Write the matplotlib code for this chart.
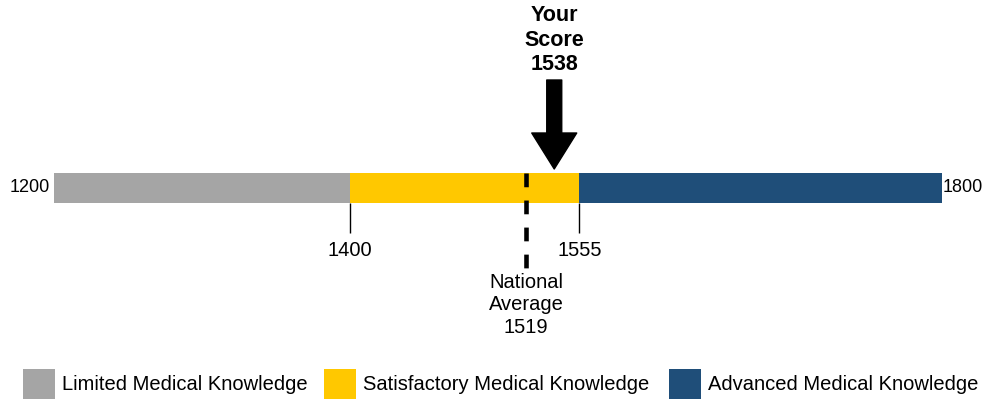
import matplotlib.pyplot as plt
from matplotlib.patches import Rectangle

plt.rcParams['font.family'] = ['Liberation Sans', 'DejaVu Sans']

# данные шкалы
range_min = 1200
range_max = 1800
band_edges = [1200, 1400, 1555, 1800]
band_labels = ['Limited Medical Knowledge', 'Satisfactory Medical Knowledge',
               'Advanced Medical Knowledge']
band_colors = ['#A5A5A5', '#FFC800', '#1F4E79']
national_avg = 1519
your_score = 1538

# пиксели -> единицы шкалы
px = (range_max - range_min) / 888.0
left_px = 54
fs = 14.5

fig = plt.figure(figsize=(9.85, 4.0), dpi=100)
ax = fig.add_axes([0, 0, 1, 1])
ax.set_xlim(range_min - left_px * px, range_min + (985 - left_px) * px)
ax.set_ylim(400, 0)
ax.axis('off')

# полосы
for i in range(len(band_labels)):
    ax.barh(188, band_edges[i + 1] - band_edges[i], left=band_edges[i], height=30,
            color=band_colors[i], edgecolor='none')

# крайние подписи
ax.text(range_min - 4 * px, 188, str(range_min), ha='right', va='center', fontsize=13)
ax.text(range_max + 1 * px, 188, str(range_max), ha='left', va='center', fontsize=13)

# внутренние границы
for e in band_edges[1:-1]:
    ax.vlines(e, 203, 233, color='black', linewidth=1)
    ax.text(e, 250, str(e), ha='center', va='center', fontsize=fs)

# средний балл
ax.plot([national_avg, national_avg], [173, 268], color='black', linewidth=3.3,
        linestyle=(0, (3, 2.9)), solid_capstyle='butt', dash_capstyle='butt')
ax.text(national_avg, 305, 'National\nAverage\n%d' % national_avg, ha='center',
        va='center', fontsize=fs, linespacing=1.22)

# стрелка "Your Score"
sw = 7.5 * px
hw = 22.5 * px
ax.fill([your_score - sw, your_score + sw, your_score + sw, your_score + hw,
         your_score, your_score - hw, your_score - sw],
        [80, 80, 133, 133, 169, 133, 133], color='black', linewidth=1,
        edgecolor='black', joinstyle='round')
ax.text(your_score, 40, 'Your\nScore\n%d' % your_score, ha='center', va='center',
        fontsize=15.5, fontweight='bold', linespacing=1.2)

# легенда
legend_x = [23, 324, 669]
for i in range(len(band_labels)):
    x0 = range_min + (legend_x[i] - left_px) * px
    ax.add_patch(Rectangle((x0, 369), 32 * px, 30, color=band_colors[i], linewidth=0))
    ax.text(x0 + 39 * px, 385, band_labels[i], ha='left', va='center', fontsize=fs)

fig.savefig('out.png', dpi=100)
